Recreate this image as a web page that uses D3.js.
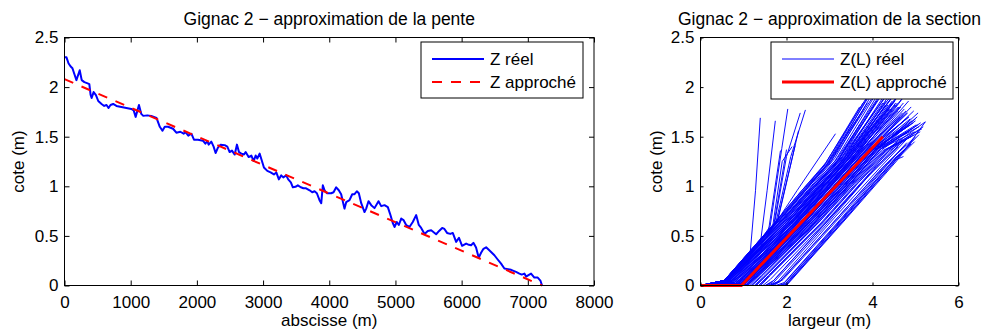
<!DOCTYPE html>
<html>
<head>
<meta charset="utf-8">
<script src="https://cdn.jsdelivr.net/npm/d3@7"></script>
<style>
  body { margin: 0; background: #fff; }
  svg { display: block; }
  text { font-family: "Liberation Sans", Arial, Helvetica, sans-serif; fill: #000; }
</style>
</head>
<body>
<svg id="chart" width="984" height="331"></svg>
<script>
// ---- Long profile: measured bed elevation along the reach ----
const profileX = [0,30,60,90,120,150,180,230,260,300,340,375,395,410,440,475,510,560,600,635,665,695,735,785,860,935,1010,1045,1075,1125,1160,1190,1250,1310,1390,1440,1480,1515,1565,1640,1690,1750,1800,1830,1870,1917,1956,2017,2092,2128,2158,2178,2218,2253,2283,2318,2359,2420,2460,2495,2530,2572,2605,2636,2672,2712,2737,2782,2823,2858,2888,2913,2948,2983,3013,3064,3114,3164,3200,3239,3275,3305,3350,3380,3420,3450,3490,3525,3570,3610,3650,3703,3743,3778,3813,3853,3879,3903,3929,3964,4030,4065,4105,4144,4180,4230,4256,4306,4347,4382,4417,4447,4483,4533,4558,4593,4634,4684,4744,4785,4835,4885,4920,4960,4986,5020,5051,5087,5122,5162,5212,5262,5313,5353,5389,5440,5489,5540,5615,5660,5706,5740,5780,5829,5866,5917,5960,6007,6068,6110,6143,6178,6218,6258,6294,6330,6370,6410,6445,6495,6545,6596,6646,6700,6747,6822,6873,6908,6948,6974,7010,7049,7099,7150,7190,7215];
const profileZ = [2.30,2.30,2.24,2.21,2.19,2.13,2.07,2.17,2.07,2.05,2.04,2.03,1.92,1.89,1.95,1.92,1.86,1.83,1.81,1.82,1.79,1.82,1.83,1.81,1.80,1.79,1.78,1.765,1.70,1.82,1.73,1.71,1.715,1.71,1.69,1.60,1.56,1.60,1.60,1.58,1.54,1.55,1.53,1.545,1.51,1.53,1.47,1.47,1.46,1.43,1.455,1.42,1.45,1.40,1.335,1.39,1.42,1.415,1.40,1.345,1.36,1.32,1.42,1.345,1.33,1.32,1.345,1.295,1.31,1.255,1.31,1.28,1.33,1.255,1.19,1.155,1.14,1.12,1.14,1.07,1.11,1.09,1.11,1.07,1.04,0.99,0.995,1.01,0.99,0.98,0.98,0.96,0.94,0.95,0.93,0.86,0.83,1.01,0.96,0.93,0.93,0.94,0.99,0.96,0.92,0.775,0.84,0.86,0.92,0.92,0.95,0.93,0.83,0.74,0.775,0.85,0.81,0.78,0.85,0.80,0.81,0.79,0.72,0.63,0.59,0.64,0.61,0.675,0.66,0.61,0.59,0.64,0.71,0.61,0.58,0.52,0.55,0.557,0.517,0.55,0.58,0.57,0.53,0.52,0.53,0.44,0.48,0.40,0.423,0.41,0.406,0.43,0.383,0.28,0.33,0.37,0.385,0.36,0.338,0.305,0.262,0.22,0.171,0.165,0.158,0.137,0.12,0.11,0.12,0.09,0.105,0.12,0.08,0.08,0.05,0.0];

// Fitted slope: straight line between its end points
const slopeX = [0, 7215];
const slopeZ = [2.08, 0];

// ---- Cross sections: (width, level) pairs, one list per section ----
const sections = [
  [0,0, 0.55,0.05, 1.70,0.62, 2.36,0.96, 2.86,1.20, 3.90,1.92],
  [0,0, 0.55,0.05, 1.74,0.62, 2.42,0.97, 2.94,1.22, 3.98,1.95],
  [0,0, 0.56,0.05, 1.78,0.63, 2.48,0.98, 3.02,1.24, 4.05,1.93],
  [0,0, 0.55,0.04, 1.82,0.62, 2.55,0.98, 3.12,1.25, 4.12,1.96],
  [0,0, 0.57,0.05, 1.86,0.63, 2.58,0.99, 3.18,1.28, 4.20,1.94],
  [0,0, 0.55,0.05, 1.88,0.62, 2.62,0.98, 3.22,1.27, 4.26,1.95],
  [0,0, 0.60,0.04, 1.92,0.63, 2.66,0.99, 3.28,1.29, 4.34,1.93],
  [0,0, 0.58,0.05, 1.95,0.62, 2.70,0.99, 3.32,1.30, 4.40,1.96],
  [0,0, 0.62,0.04, 1.98,0.62, 2.74,0.99, 3.38,1.31, 4.48,1.94],
  [0,0, 0.60,0.05, 2.02,0.63, 2.78,1.00, 3.42,1.32, 4.55,1.95],
  [0,0, 0.65,0.04, 2.06,0.62, 2.82,1.00, 3.48,1.33, 4.62,1.93],
  [0,0, 0.62,0.05, 2.10,0.63, 2.86,1.00, 3.52,1.34, 4.70,1.96],
  [0,0, 0.55,0.05, 1.76,0.60, 2.52,0.95, 3.10,1.20, 3.70,1.62],
  [0,0, 0.58,0.04, 1.90,0.60, 2.68,0.97, 3.30,1.26, 4.02,1.74],
  [0,0, 0.60,0.05, 2.00,0.60, 2.80,0.98, 3.45,1.28, 4.30,1.82],
  [0,0, 0.63,0.04, 2.12,0.62, 2.90,0.99, 3.58,1.32, 4.50,1.85],
  [0,0, 0.66,0.05, 2.18,0.62, 2.98,1.00, 3.66,1.33, 4.66,1.80],
  [0,0, 0.70,0.04, 2.25,0.63, 3.05,1.01, 3.75,1.34, 4.78,1.76],
  [0,0, 0.72,0.05, 2.30,0.62, 3.12,1.01, 3.84,1.35, 4.85,1.70],
  [0,0, 0.75,0.04, 2.36,0.62, 3.20,1.02, 3.92,1.36, 4.92,1.66],
  [0,0, 0.80,0, 1.00,0.08, 2.10,0.60, 2.90,0.98, 3.55,1.30, 4.40,1.78],
  [0,0, 0.85,0, 1.05,0.07, 2.16,0.60, 2.96,0.98, 3.62,1.31, 4.52,1.82],
  [0,0, 0.90,0, 1.10,0.08, 2.22,0.61, 3.02,0.99, 3.70,1.32, 4.60,1.76],
  [0,0, 0.92,0, 1.15,0.09, 2.28,0.62, 3.10,1.00, 3.78,1.33, 4.72,1.72],
  [0,0, 0.95,0, 1.18,0.08, 2.34,0.62, 3.16,1.00, 3.86,1.34, 4.80,1.74],
  [0,0, 1.00,0, 1.22,0.09, 2.40,0.63, 3.22,1.01, 3.94,1.35, 4.88,1.68],
  [0,0, 1.05,0, 1.28,0.10, 2.46,0.63, 3.28,1.01, 4.00,1.36, 4.95,1.64],
  [0,0, 1.10,0, 1.34,0.10, 2.52,0.63, 3.36,1.02, 4.08,1.37, 5.02,1.62],
  [0,0, 1.15,0, 1.40,0.11, 2.60,0.64, 3.42,1.02, 4.14,1.38, 5.08,1.60],
  [0,0, 1.20,0, 1.45,0.10, 2.66,0.63, 3.48,1.02, 4.20,1.38, 4.98,1.55],
  [0,0, 1.25,0, 1.50,0.10, 2.70,0.63, 3.52,1.02, 4.24,1.36, 4.90,1.50],
  [0,0, 1.30,0, 1.55,0.11, 2.76,0.64, 3.58,1.03, 4.30,1.36, 5.11,1.55],
  [0,0, 1.35,0, 1.58,0.10, 2.80,0.63, 3.62,1.03, 4.36,1.38, 5.23,1.65],
  [0,0, 1.40,0, 1.62,0.10, 2.84,0.63, 3.68,1.04, 4.40,1.36, 4.95,1.52],
  [0,0, 1.50,0, 1.70,0.05, 3.05,0.70, 4.10,1.20, 4.70,1.45],
  [0,0, 1.60,0, 1.80,0.04, 3.15,0.70, 4.20,1.20, 4.85,1.50],
  [0,0, 1.75,0, 1.95,0.03, 3.28,0.68, 4.35,1.22, 4.90,1.43],
  [0,0, 1.85,0, 2.00,0.01, 3.35,0.67, 4.45,1.22, 5.00,1.50],
  [0,0, 2.00,0, 3.40,0.68, 4.57,1.26, 5.23,1.65],
  [0,0, 1.95,0, 3.30,0.66, 4.50,1.26, 4.72,1.30],
  [0,0, 1.90,0, 3.22,0.64, 4.40,1.22, 4.90,1.43],
  [0,0, 1.55,0, 1.70,0.03, 2.90,0.60, 3.90,1.10, 4.60,1.40],
  [0,0, 1.45,0, 1.62,0.06, 2.95,0.66, 3.95,1.14, 4.62,1.48],
  [0,0, 1.70,0, 1.92,0.06, 3.18,0.66, 4.25,1.18, 4.80,1.44],
  [0,0, 0.55,0.04, 1.10,0.28, 1.16,0.35, 1.28,0.96, 1.39,1.69],
  [0,0, 0.55,0.05, 1.25,0.36, 1.40,0.45, 1.55,0.96, 1.74,1.66],
  [0,0, 0.55,0.05, 1.50,0.52, 1.62,0.60, 1.89,1.38, 2.03,1.78],
  [0,0, 0.56,0.05, 1.60,0.56, 1.72,0.62, 2.00,1.30, 2.32,1.74],
  [0,0, 0.55,0.04, 1.62,0.57, 1.75,0.63, 2.10,1.30, 2.44,1.77],
  [0,0, 0.55,0.05, 1.58,0.55, 1.70,0.60, 2.00,1.37],
  [0,0, 0.55,0.05, 1.48,0.50, 1.58,0.55, 1.86,1.36],
  [0,0, 0.57,0.05, 1.66,0.58, 1.78,0.64, 2.20,1.41],
  [0,0, 0.55,0.05, 1.52,0.52, 1.68,0.60, 1.90,1.25, 2.13,1.40],
  [0,0, 0.55,0.04, 1.64,0.58, 1.80,0.66, 2.28,1.56],
  [0,0, 0.55,0.05, 1.40,0.40, 2.25,0.96, 3.14,1.53],
  [0,0, 0.30,0.02, 0.55,0.05, 1.72,0.60, 2.40,0.95, 2.92,1.21, 3.80,1.78],
  [0,0, 0.55,0.05, 1.80,0.64, 2.50,0.99, 3.02,1.26, 3.88,1.84],
  [0,0, 0.55,0.05, 1.84,0.62, 2.60,0.98, 3.20,1.27, 4.10,1.86],
  [0,0, 0.58,0.05, 1.92,0.61, 2.70,0.97, 3.34,1.28, 4.24,1.84],
  [0,0, 0.62,0.05, 2.00,0.62, 2.76,0.98, 3.40,1.29, 4.36,1.90],
  [0,0, 0.68,0.04, 2.08,0.61, 2.86,0.99, 3.54,1.32, 4.44,1.78],
  [0,0, 0.74,0.04, 2.16,0.61, 2.94,0.99, 3.62,1.32, 4.58,1.84],
  [0,0, 0.78,0.03, 2.22,0.61, 3.02,1.00, 3.72,1.34, 4.64,1.70],
  [0,0, 0.82,0.02, 2.30,0.62, 3.10,1.00, 3.80,1.34, 4.74,1.78],
  [0,0, 0.88,0.02, 2.38,0.62, 3.18,1.01, 3.88,1.35, 4.82,1.74],
  [0,0, 0.92,0.01, 2.44,0.62, 3.26,1.01, 3.98,1.36, 4.76,1.60],
  [0,0, 0.98,0.01, 2.50,0.62, 3.32,1.01, 4.04,1.36, 4.68,1.58],
  [0,0, 1.02,0.02, 2.56,0.62, 3.38,1.01, 4.10,1.37, 4.86,1.66],
  [0,0, 1.08,0.01, 2.62,0.62, 3.46,1.02, 4.18,1.37, 5.04,1.70],
  [0,0, 0.55,0.05, 1.72,0.63, 2.40,0.98, 2.92,1.24, 3.70,1.80],
  [0,0, 0.56,0.05, 1.76,0.64, 2.45,0.99, 2.98,1.26, 3.78,1.84],
  [0,0, 0.55,0.05, 1.79,0.62, 2.51,0.99, 3.06,1.27, 3.86,1.88],
  [0,0, 0.57,0.04, 1.83,0.63, 2.55,0.99, 3.12,1.28, 3.95,1.90],
  [0,0, 0.59,0.05, 1.87,0.62, 2.61,0.99, 3.24,1.29, 4.06,1.88],
  [0,0, 0.61,0.04, 1.91,0.62, 2.65,0.99, 3.30,1.30, 4.16,1.90],
  [0,0, 0.63,0.05, 1.94,0.62, 2.69,0.99, 3.36,1.31, 4.28,1.92],
  [0,0, 0.64,0.04, 1.97,0.61, 2.73,0.98, 3.40,1.30, 4.32,1.86],
  [0,0, 0.66,0.05, 2.01,0.62, 2.77,0.99, 3.44,1.31, 4.42,1.88],
  [0,0, 0.68,0.04, 2.04,0.62, 2.80,0.99, 3.47,1.32, 4.50,1.92],
  [0,0, 0.70,0.04, 2.07,0.61, 2.84,0.99, 3.50,1.32, 4.52,1.86],
  [0,0, 0.72,0.04, 2.11,0.62, 2.88,1.00, 3.56,1.33, 4.58,1.90],
  [0,0, 0.74,0.03, 2.14,0.61, 2.92,0.99, 3.60,1.33, 4.60,1.80],
  [0,0, 0.76,0.03, 2.19,0.62, 2.96,1.00, 3.64,1.33, 4.68,1.88],
  [0,0, 0.79,0.03, 2.23,0.62, 3.00,1.00, 3.70,1.34, 4.72,1.84],
  [0,0, 0.81,0.02, 2.26,0.61, 3.04,1.00, 3.74,1.34, 4.76,1.92],
  [0,0, 0.84,0.02, 2.31,0.62, 3.08,1.00, 3.78,1.34, 4.70,1.74],
  [0,0, 0.86,0.02, 2.34,0.62, 3.13,1.01, 3.82,1.35, 4.84,1.86],
  [0,0, 0.89,0.02, 2.38,0.61, 3.16,1.00, 3.86,1.35, 4.78,1.68],
  [0,0, 0.91,0.01, 2.41,0.62, 3.20,1.01, 3.90,1.35, 4.90,1.80],
  [0,0, 0.94,0.01, 2.45,0.62, 3.24,1.01, 3.95,1.36, 4.88,1.62],
  [0,0, 0.97,0.01, 2.48,0.62, 3.28,1.01, 3.99,1.36, 4.96,1.76],
  [0,0, 1.00,0.01, 2.52,0.62, 3.33,1.01, 4.03,1.36, 4.92,1.58],
  [0,0, 1.03,0.01, 2.55,0.62, 3.36,1.01, 4.07,1.37, 5.00,1.68],
  [0,0, 1.06,0.01, 2.59,0.62, 3.41,1.02, 4.12,1.37, 5.06,1.74],
  [0,0, 1.10,0.01, 2.64,0.62, 3.44,1.01, 4.16,1.37, 4.86,1.56],
  [0,0, 1.12,0.01, 2.68,0.62, 3.50,1.02, 4.22,1.37, 5.12,1.64],
  [0,0, 0.70,0, 0.90,0.06, 2.02,0.60, 2.82,0.98, 3.48,1.30, 4.36,1.82],
  [0,0, 0.75,0, 0.95,0.07, 2.06,0.60, 2.86,0.98, 3.52,1.31, 4.46,1.86],
  [0,0, 0.82,0, 1.02,0.07, 2.12,0.60, 2.92,0.98, 3.58,1.31, 4.54,1.84],
  [0,0, 0.88,0, 1.08,0.08, 2.19,0.61, 2.99,0.99, 3.66,1.32, 4.62,1.80],
  [0,0, 0.98,0, 1.20,0.09, 2.37,0.62, 3.19,1.00, 3.90,1.34, 4.84,1.70],
  [0,0, 1.08,0, 1.31,0.10, 2.49,0.63, 3.32,1.01, 4.04,1.36, 5.00,1.66],
  [0,0, 1.18,0, 1.42,0.10, 2.63,0.63, 3.45,1.02, 4.17,1.37, 5.06,1.62],
  [0,0, 1.28,0, 1.52,0.10, 2.73,0.63, 3.55,1.02, 4.27,1.36, 5.15,1.58],
  [0,0, 1.38,0, 1.60,0.10, 2.82,0.63, 3.65,1.03, 4.38,1.37, 5.18,1.60],
  [0,0, 1.65,0, 1.85,0.04, 3.20,0.69, 4.28,1.21, 4.95,1.48],
  [0,0, 1.80,0, 1.98,0.02, 3.32,0.68, 4.40,1.22, 5.08,1.52],
  [0,0, 1.98,0, 3.36,0.67, 4.52,1.25, 4.98,1.45],
  [0,0, 1.52,0, 1.68,0.04, 2.98,0.66, 4.02,1.16, 4.70,1.48],
  [0,0, 1.62,0, 1.86,0.05, 3.10,0.64, 4.15,1.15, 4.78,1.42]
];

// Model section: flat bed then a single bank slope
const modelL = [0, 0.95, 4.24];
const modelZ = [0, 0, 1.50];

// Tick values
const profileTicksX = [0,1000,2000,3000,4000,5000,6000,7000,8000];
const sectionTicksX = [0,2,4,6];
const levelTicks = [0,0.5,1,1.5,2,2.5];

const svg = d3.select("#chart");
const FS = 17;

function frame(g, x, y, w, h, xTicks, yTicks, tick) {
  g.append("g").attr("transform", `translate(0,${h})`)
    .call(d3.axisBottom(x).tickValues(xTicks).tickSize(-tick).tickSizeOuter(0).tickPadding(10).tickFormat(d => String(d)));
  g.append("g")
    .call(d3.axisLeft(y).tickValues(yTicks).tickSize(-tick).tickSizeOuter(0).tickPadding(6).tickFormat(d => String(d)));
  g.append("g")
    .call(d3.axisTop(x).tickValues(xTicks).tickSize(-tick).tickSizeOuter(0).tickFormat(""));
  g.append("g").attr("transform", `translate(${w},0)`)
    .call(d3.axisRight(y).tickValues(yTicks).tickSize(-tick).tickSizeOuter(0).tickFormat(""));
  g.selectAll(".domain").remove();
  g.selectAll(".tick line").attr("stroke", "#000").attr("stroke-width", 1);
  g.selectAll(".tick text").attr("font-size", FS).attr("font-family", null).attr("fill", "#000");
  g.append("rect").attr("x", 0).attr("y", 0).attr("width", w).attr("height", h)
    .attr("fill", "none").attr("stroke", "#000").attr("stroke-width", 1);
}

function legend(g, x0, y0, w, h, items) {
  const lg = g.append("g").attr("transform", `translate(${x0},${y0})`);
  lg.append("rect").attr("width", w).attr("height", h).attr("fill", "#fff").attr("stroke", "#000").attr("stroke-width", 1);
  items.forEach((it, i) => {
    const yy = 17 + i * 23;
    lg.append("line").attr("x1", 11).attr("x2", 63).attr("y1", yy).attr("y2", yy)
      .attr("stroke", it.color).attr("stroke-width", it.width).attr("stroke-dasharray", it.dash || null);
    lg.append("text").attr("x", 69).attr("y", yy + 6).attr("font-size", FS).text(it.label);
  });
}

// ---------------- Left panel: slope ----------------
{
  const L = 64.5, T = 37.5, W = 529.5, H = 248;
  const g = svg.append("g").attr("transform", `translate(${L},${T})`);
  const x = d3.scaleLinear().domain([0, 8000]).range([0, W]);
  const y = d3.scaleLinear().domain([0, 2.5]).range([H, 0]);

  const line = d3.line().x(d => x(d[0])).y(d => y(d[1]));
  g.append("path").datum(d3.zip(profileX, profileZ)).attr("d", line)
    .attr("fill", "none").attr("stroke", "#0000ff").attr("stroke-width", 2).attr("stroke-linejoin", "round");
  g.append("path").datum(d3.zip(slopeX, slopeZ)).attr("d", line)
    .attr("fill", "none").attr("stroke", "#ff0000").attr("stroke-width", 2).attr("stroke-dasharray", "9.5,9");

  frame(g, x, y, W, H, profileTicksX, levelTicks, 5);
  legend(g, 421 - L, 42 - T, 162, 56, [
    { label: "Z réel", color: "#0000ff", width: 2 },
    { label: "Z approché", color: "#ff0000", width: 2, dash: "10,9" }
  ]);

  svg.append("text").attr("x", L + W / 2).attr("y", 25).attr("text-anchor", "middle")
    .attr("font-size", 17.5).text("Gignac 2 − approximation de la pente");
  svg.append("text").attr("x", L + W / 2).attr("y", 326).attr("text-anchor", "middle")
    .attr("font-size", FS).text("abscisse (m)");
  svg.append("text").attr("transform", `translate(24,${T + H / 2}) rotate(-90)`).attr("text-anchor", "middle")
    .attr("font-size", FS).text("cote (m)");
}

// ---------------- Right panel: cross section ----------------
{
  const L = 700.5, T = 37.5, W = 258, H = 248;
  const g = svg.append("g").attr("transform", `translate(${L},${T})`);
  const x = d3.scaleLinear().domain([0, 6]).range([0, W]);
  const y = d3.scaleLinear().domain([0, 2.5]).range([H, 0]);

  const line = d3.line().x(d => x(d[0])).y(d => y(d[1]));
  const pairs = s => d3.range(0, s.length, 2).map(i => [s[i], s[i + 1]]);
  g.append("g").selectAll("path").data(sections).join("path")
    .attr("d", s => line(pairs(s)))
    .attr("fill", "none").attr("stroke", "#0000ff").attr("stroke-width", 0.95);
  g.append("path").datum(d3.zip(modelL, modelZ)).attr("d", line)
    .attr("fill", "none").attr("stroke", "#ff0000").attr("stroke-width", 3);

  frame(g, x, y, W, H, sectionTicksX, levelTicks, 3);
  legend(g, 771 - L, 42 - T, 182, 57, [
    { label: "Z(L) réel", color: "#0000ff", width: 1 },
    { label: "Z(L) approché", color: "#ff0000", width: 3 }
  ]);

  svg.append("text").attr("x", L + W / 2).attr("y", 25).attr("text-anchor", "middle")
    .attr("font-size", 17.5).text("Gignac 2 − approximation de la section");
  svg.append("text").attr("x", L + W / 2).attr("y", 326).attr("text-anchor", "middle")
    .attr("font-size", FS).text("largeur (m)");
  svg.append("text").attr("transform", `translate(662,${T + H / 2}) rotate(-90)`).attr("text-anchor", "middle")
    .attr("font-size", FS).text("cote (m)");
}
</script>
</body>
</html>
